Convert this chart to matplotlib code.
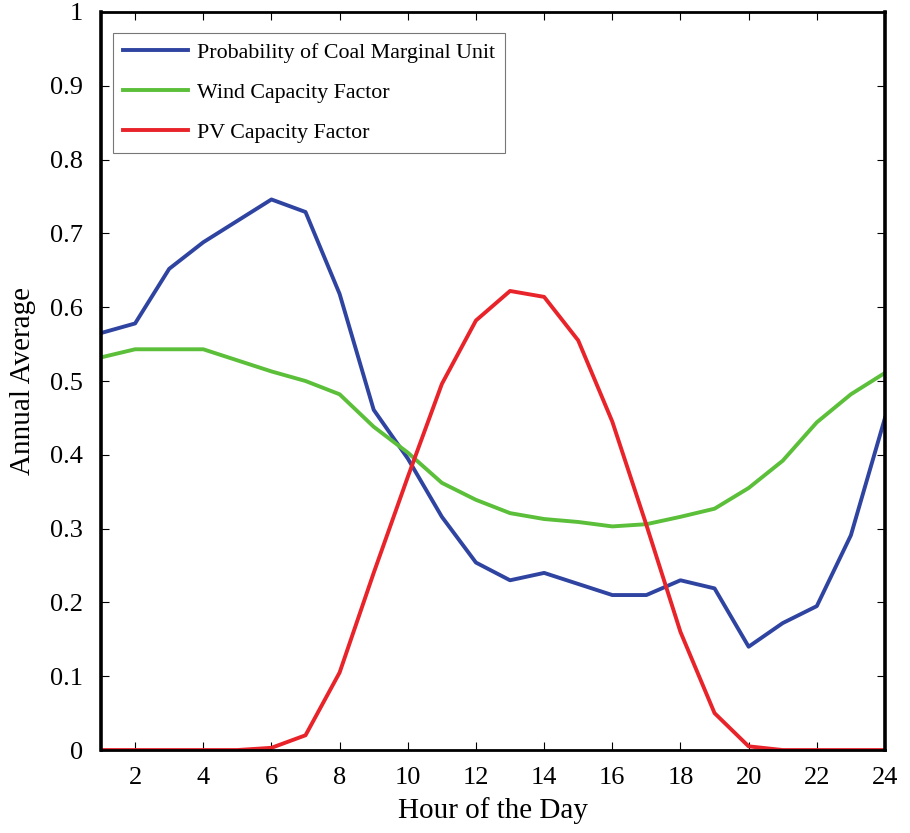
import matplotlib
matplotlib.use('Agg')
import matplotlib.pyplot as plt
from matplotlib.ticker import FuncFormatter

# hourly annual averages
hours = list(range(1, 25))
coal_prob = [0.565, 0.578, 0.652, 0.688, 0.717, 0.746, 0.729, 0.618, 0.461, 0.395,
             0.316, 0.254, 0.230, 0.240, 0.225, 0.210, 0.210, 0.230, 0.219, 0.140,
             0.172, 0.195, 0.291, 0.450]
wind_cf = [0.532, 0.543, 0.543, 0.543, 0.528, 0.513, 0.500, 0.482, 0.438, 0.403,
           0.362, 0.339, 0.321, 0.313, 0.309, 0.303, 0.306, 0.316, 0.327, 0.355,
           0.392, 0.444, 0.482, 0.511]
pv_cf = [0.0, 0.0, 0.0, 0.0, 0.0, 0.003, 0.02, 0.105, 0.24, 0.37,
         0.496, 0.582, 0.622, 0.614, 0.555, 0.445, 0.305, 0.16, 0.05, 0.005,
         0.0, 0.0, 0.0, 0.0]

plt.rcParams['font.family'] = ['Liberation Serif', 'DejaVu Serif']

fig = plt.figure(figsize=(9.1, 8.33), dpi=100)
ax = fig.add_axes([0.111, 0.0996, 0.8615, 0.886])

ax.plot(hours, coal_prob, color='#2f44a0', lw=2.8, label='Probability of Coal Marginal Unit')
ax.plot(hours, wind_cf, color='#5bbf3a', lw=2.8, label='Wind Capacity Factor')
ax.plot(hours, pv_cf, color='#e8232a', lw=2.8, label='PV Capacity Factor')

ax.set_xlim(1, 24)
ax.set_ylim(0, 1)
ax.set_xticks(range(2, 25, 2))
ax.set_yticks([i / 10 for i in range(11)])
ax.yaxis.set_major_formatter(FuncFormatter(lambda v, p: '%g' % round(v, 1)))
ax.tick_params(direction='in', top=True, right=True, labelsize=19, length=6, width=0.8)
ax.tick_params(axis='y', pad=13)
ax.tick_params(axis='x', pad=12)

for s in ax.spines.values():
    s.set_linewidth(2)
ax.spines['left'].set_linewidth(2.6)
ax.spines['right'].set_linewidth(2.6)

ax.set_xlabel('Hour of the Day', fontsize=21, labelpad=6)
ax.set_ylabel('Annual Average', fontsize=21, labelpad=10)

leg = ax.legend(loc='upper left', fontsize=15.8, handlelength=3.0, handletextpad=0.4,
                fancybox=False, borderpad=0.45, labelspacing=0.9,
                bbox_to_anchor=(0.015, 0.972), borderaxespad=0)
leg.get_frame().set_edgecolor('#555555')
leg.get_frame().set_linewidth(0.8)

fig.savefig('out.png', dpi=100)
